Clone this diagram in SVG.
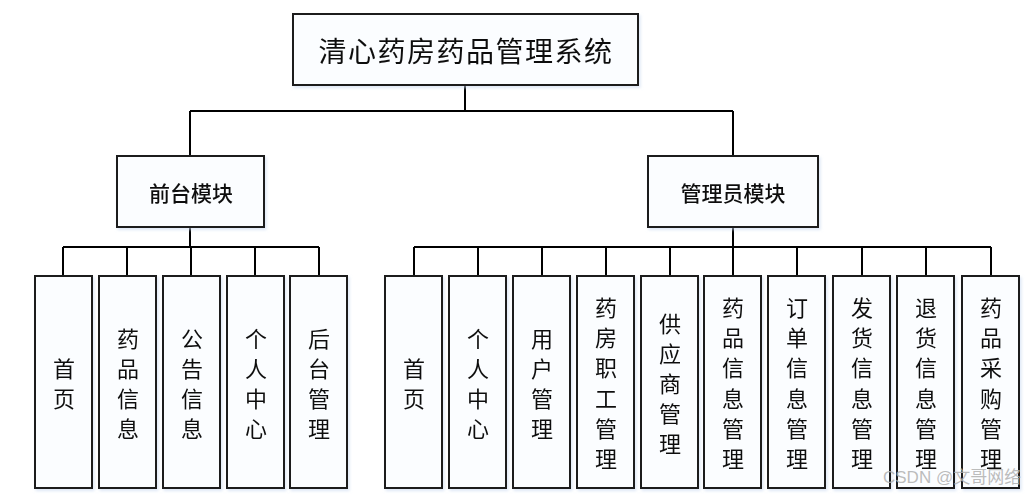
<svg xmlns="http://www.w3.org/2000/svg" width="1034" height="494" viewBox="0 0 1034 494">
<defs>
<style>
.box{fill:#fbfdff;stroke:#1a1a1a;stroke-width:2}
.ln{stroke:#000;stroke-width:2;fill:none}
.t{font-family:"Noto Sans CJK SC","Noto Sans",sans-serif;fill:#111;text-anchor:middle;dominant-baseline:central}
.root{font-size:28px;letter-spacing:1.5px}
.mod{font-size:21px;font-weight:500}
.leaf{font-size:22px}
.wm{font-family:"Liberation Sans","Noto Sans CJK SC",sans-serif;font-size:17px;fill:#b0b0b0;fill-opacity:0.85}
</style>
<filter id="sh" x="-10%" y="-10%" width="130%" height="130%">
<feDropShadow dx="1.5" dy="2" stdDeviation="1.5" flood-color="#c8d8f0" flood-opacity="0.6"/>
</filter>
</defs>
<rect width="1034" height="494" fill="#fff"/>
<g id="connectors">
<path class="ln" d="M465,85V111M190,111H733M190,111V156M733,111V156"/>
<path class="ln" d="M190,227V247M63,247H319M63,247V276M127,247V276M191,247V276M255,247V276M319,247V276"/>
<path class="ln" d="M733,227V247M414,247H991M414,247V276M478,247V276M542,247V276M606,247V276M670,247V276M733,247V276M797,247V276M862,247V276M926,247V276M991,247V276"/>
</g>
<g id="root" filter="url(#sh)"><rect class="box" x="293" y="14" width="345" height="71"/><text class="t root" x="466" y="50">清心药房药品管理系统</text></g>
<g id="front" filter="url(#sh)"><rect class="box" x="117" y="156" width="147" height="71"/><text class="t mod" x="191" y="192">前台模块</text></g>
<g id="admin" filter="url(#sh)"><rect class="box" x="648" y="156" width="170" height="71"/><text class="t mod" x="733" y="192">管理员模块</text></g>
<g id="f1" filter="url(#sh)"><rect class="box" x="35" y="276" width="57" height="212"/><text class="t leaf" x="64"><tspan x="64" y="367">首</tspan><tspan x="64" y="397">页</tspan></text></g>
<g id="f2" filter="url(#sh)"><rect class="box" x="99" y="276" width="57" height="212"/><text class="t leaf"><tspan x="128" y="337">药</tspan><tspan x="128" y="367">品</tspan><tspan x="128" y="397">信</tspan><tspan x="128" y="427">息</tspan></text></g>
<g id="f3" filter="url(#sh)"><rect class="box" x="163" y="276" width="57" height="212"/><text class="t leaf"><tspan x="192" y="337">公</tspan><tspan x="192" y="367">告</tspan><tspan x="192" y="397">信</tspan><tspan x="192" y="427">息</tspan></text></g>
<g id="f4" filter="url(#sh)"><rect class="box" x="227" y="276" width="57" height="212"/><text class="t leaf"><tspan x="256" y="337">个</tspan><tspan x="256" y="367">人</tspan><tspan x="256" y="397">中</tspan><tspan x="256" y="427">心</tspan></text></g>
<g id="f5" filter="url(#sh)"><rect class="box" x="290" y="276" width="57" height="212"/><text class="t leaf"><tspan x="319" y="337">后</tspan><tspan x="319" y="367">台</tspan><tspan x="319" y="397">管</tspan><tspan x="319" y="427">理</tspan></text></g>
<g id="a1" filter="url(#sh)"><rect class="box" x="385" y="276" width="57" height="212"/><text class="t leaf"><tspan x="414" y="367">首</tspan><tspan x="414" y="397">页</tspan></text></g>
<g id="a2" filter="url(#sh)"><rect class="box" x="449" y="276" width="57" height="212"/><text class="t leaf"><tspan x="478" y="337">个</tspan><tspan x="478" y="367">人</tspan><tspan x="478" y="397">中</tspan><tspan x="478" y="427">心</tspan></text></g>
<g id="a3" filter="url(#sh)"><rect class="box" x="513" y="276" width="57" height="212"/><text class="t leaf"><tspan x="542" y="337">用</tspan><tspan x="542" y="367">户</tspan><tspan x="542" y="397">管</tspan><tspan x="542" y="427">理</tspan></text></g>
<g id="a4" filter="url(#sh)"><rect class="box" x="577" y="276" width="57" height="212"/><text class="t leaf"><tspan x="606" y="306">药</tspan><tspan x="606" y="336">房</tspan><tspan x="606" y="366">职</tspan><tspan x="606" y="397">工</tspan><tspan x="606" y="427">管</tspan><tspan x="606" y="457">理</tspan></text></g>
<g id="a5" filter="url(#sh)"><rect class="box" x="641" y="276" width="57" height="212"/><text class="t leaf"><tspan x="670" y="322">供</tspan><tspan x="670" y="352">应</tspan><tspan x="670" y="382">商</tspan><tspan x="670" y="412">管</tspan><tspan x="670" y="442">理</tspan></text></g>
<g id="a6" filter="url(#sh)"><rect class="box" x="704" y="276" width="57" height="212"/><text class="t leaf"><tspan x="733" y="306">药</tspan><tspan x="733" y="336">品</tspan><tspan x="733" y="366">信</tspan><tspan x="733" y="397">息</tspan><tspan x="733" y="427">管</tspan><tspan x="733" y="457">理</tspan></text></g>
<g id="a7" filter="url(#sh)"><rect class="box" x="768" y="276" width="57" height="212"/><text class="t leaf"><tspan x="797" y="306">订</tspan><tspan x="797" y="336">单</tspan><tspan x="797" y="366">信</tspan><tspan x="797" y="397">息</tspan><tspan x="797" y="427">管</tspan><tspan x="797" y="457">理</tspan></text></g>
<g id="a8" filter="url(#sh)"><rect class="box" x="833" y="276" width="57" height="212"/><text class="t leaf"><tspan x="862" y="306">发</tspan><tspan x="862" y="336">货</tspan><tspan x="862" y="366">信</tspan><tspan x="862" y="397">息</tspan><tspan x="862" y="427">管</tspan><tspan x="862" y="457">理</tspan></text></g>
<g id="a9" filter="url(#sh)"><rect class="box" x="897" y="276" width="57" height="212"/><text class="t leaf"><tspan x="926" y="306">退</tspan><tspan x="926" y="336">货</tspan><tspan x="926" y="366">信</tspan><tspan x="926" y="397">息</tspan><tspan x="926" y="427">管</tspan><tspan x="926" y="457">理</tspan></text></g>
<g id="a10" filter="url(#sh)"><rect class="box" x="962" y="276" width="57" height="212"/><text class="t leaf"><tspan x="991" y="306">药</tspan><tspan x="991" y="336">品</tspan><tspan x="991" y="366">采</tspan><tspan x="991" y="397">购</tspan><tspan x="991" y="427">管</tspan><tspan x="991" y="457">理</tspan></text></g>
<text class="wm" x="883" y="483">CSDN @文哥网络</text>
</svg>
